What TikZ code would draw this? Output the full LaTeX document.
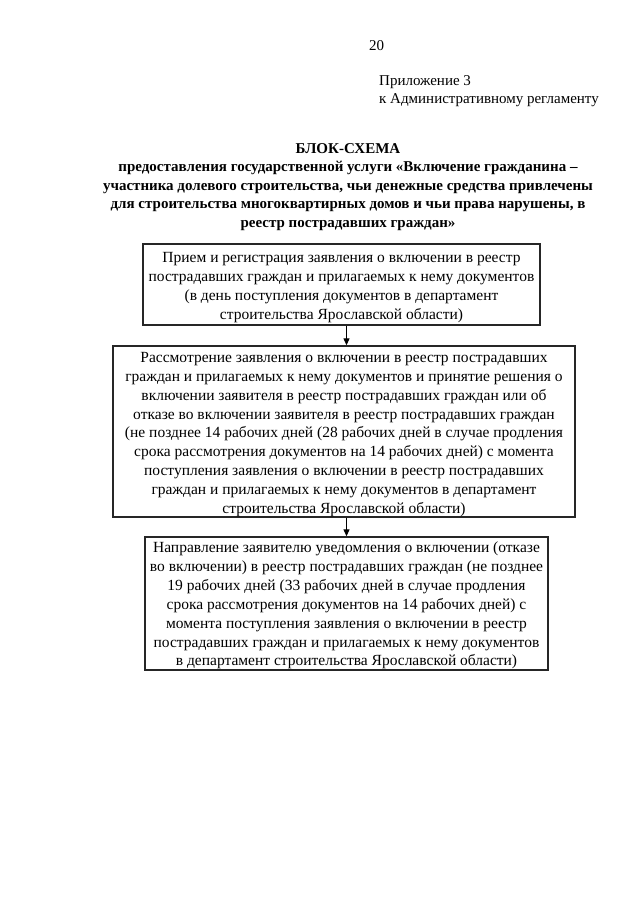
\documentclass[tikz,border=0pt]{standalone}
\usepackage{fontspec}
\setmainfont{Liberation Serif}
\usetikzlibrary{arrows.meta}
\tikzset{
  box/.style={draw=black!85, line width=1.4pt, inner sep=0pt},
  boxtext/.style={align=center, inner sep=0pt, font=\fontsize{15.5}{18.9}\selectfont},
  txt/.style={inner sep=0pt, font=\fontsize{15}{18.5}\selectfont},
  ttl/.style={inner sep=0pt, align=center, font=\fontsize{15}{18.6}\selectfont\bfseries},
  arr/.style={line width=1.2pt, -{Triangle[length=7pt,width=6pt]}}
}
\begin{document}
\begin{tikzpicture}[x=1pt,y=-1pt]
\useasboundingbox (0,0) rectangle (640,905);
\fill[white] (0,0) rectangle (640,905);
\node[txt, anchor=west] (pg) at (369,46) {20};
\node[txt, anchor=north west, align=left] (app) at (379,75) {Приложение 3\\к Административному регламенту};
\node[ttl, anchor=north] (title) at (348,143) {БЛОК-СХЕМА\\
предоставления государственной услуги «Включение гражданина –\\
участника долевого строительства, чьи денежные средства привлечены\\
для строительства многоквартирных домов и чьи права нарушены, в\\
реестр пострадавших граждан»};
\node[box, minimum width=397pt, minimum height=81pt] (b1) at (341.5,284.5) {};
\node[boxtext] (t1) at ([yshift=-3pt]b1.center) {Прием и регистрация заявления о включении в реестр\\
пострадавших граждан и прилагаемых к нему документов\\
(в день поступления документов в департамент\\
строительства Ярославской области)};
\node[box, minimum width=462pt, minimum height=171pt] (b2) at (344,431.5) {};
\node[boxtext] (t2) at ([yshift=-3pt]b2.center) {Рассмотрение заявления о включении в реестр пострадавших\\
граждан и прилагаемых к нему документов и принятие решения о\\
включении заявителя в реестр пострадавших граждан или об\\
отказе во включении заявителя в реестр пострадавших граждан\\
(не позднее 14 рабочих дней (28 рабочих дней в случае продления\\
срока рассмотрения документов на 14 рабочих дней) с момента\\
поступления заявления о включении в реестр пострадавших\\
граждан и прилагаемых к нему документов в департамент\\
строительства Ярославской области)};
\node[box, minimum width=403pt, minimum height=133pt] (b3) at (346.5,603.5) {};
\node[boxtext] (t3) at ([yshift=-2pt]b3.center) {Направление заявителю уведомления о включении (отказе\\
во включении) в реестр пострадавших граждан (не позднее\\
19 рабочих дней (33 рабочих дней в случае продления\\
срока рассмотрения документов на 14 рабочих дней) с\\
момента поступления заявления о включении в реестр\\
пострадавших граждан и прилагаемых к нему документов\\
в департамент строительства Ярославской области)};
\coordinate (ax) at (346.5,0);
\draw[arr] (b1.south -| ax) -- (b2.north -| ax);
\draw[arr] (b2.south -| ax) -- (b3.north -| ax);
\end{tikzpicture}
\end{document}
